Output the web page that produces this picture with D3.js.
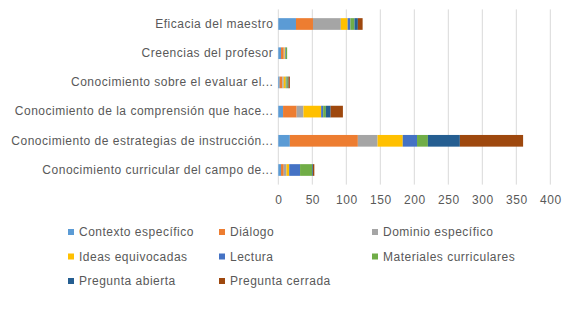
<!DOCTYPE html>
<html>
<head>
<meta charset="utf-8">
<script src="https://cdn.jsdelivr.net/npm/d3@7"></script>
<style>
  body { margin: 0; background: #fff; }
  text { font-family: "Liberation Sans", Arial, sans-serif; fill: #595959; letter-spacing: 0.5px; }
</style>
</head>
<body>
<div id="chart"></div>
<script>
// categories, top to bottom as drawn
const categories = [
    "Eficacia del maestro",
    "Creencias del profesor",
    "Conocimiento sobre el evaluar el...",
    "Conocimiento de la comprensión que hace...",
    "Conocimiento de estrategias de instrucción...",
    "Conocimiento curricular del campo de..."
];

const seriesNames = [
    "Contexto específico", "Diálogo", "Dominio específico", "Ideas equivocadas",
    "Lectura", "Materiales curriculares", "Pregunta abierta", "Pregunta cerrada"
];

// one array per series, in category order
const contexto    = [26, 4, 2, 7, 17, 4];
const dialogo     = [25, 4, 4, 20, 100, 4];
const dominio     = [41, 1, 2, 10, 29, 4];
const ideas       = [10, 1, 3, 26, 37, 4];
const lectura     = [4, 1, 1, 3, 21, 16];
const materiales  = [6, 2, 2, 4, 16, 18];
const abierta     = [5, 0, 1, 7, 47, 1];
const cerrada     = [7, 0, 2, 18, 93, 2];

const xTicks = [0, 50, 100, 150, 200, 250, 300, 350, 400];
const colors = ["#5B9BD5", "#ED7D31", "#A5A5A5", "#FFC000", "#4472C4", "#70AD47", "#255E91", "#9E480E"];

const allSeries = [contexto, dialogo, dominio, ideas, lectura, materiales, abierta, cerrada];

const W = 577, H = 311;
const margin = { top: 9.4, left: 278.3 };
const plotW = 272, plotH = 175.2;

const svg = d3.select("#chart").append("svg")
    .attr("width", W)
    .attr("height", H);

const x = d3.scaleLinear().domain([0, 400]).range([margin.left, margin.left + plotW]);
const y = d3.scaleBand().domain(categories)
    .range([margin.top, margin.top + plotH])
    .paddingInner(0.6).paddingOuter(0.3);

// gridlines
svg.append("g")
    .selectAll("line")
    .data(xTicks)
    .enter().append("line")
    .attr("x1", d => x(d)).attr("x2", d => x(d))
    .attr("y1", margin.top).attr("y2", margin.top + plotH)
    .attr("stroke", "#d9d9d9")
    .attr("stroke-width", 1);

// build stacked table
const rows = categories.map((c, i) => {
    const r = { cat: c };
    seriesNames.forEach((s, j) => { r[s] = allSeries[j][i]; });
    return r;
});
const stacked = d3.stack().keys(seriesNames)(rows);

svg.append("g")
    .selectAll("g")
    .data(stacked)
    .enter().append("g")
    .attr("fill", (d, i) => colors[i])
    .selectAll("rect")
    .data(d => d)
    .enter().append("rect")
    .attr("x", d => x(d[0]))
    .attr("width", d => Math.max(0, x(d[1]) - x(d[0])))
    .attr("y", d => y(d.data.cat))
    .attr("height", y.bandwidth());

// x axis labels
const gx = svg.append("g")
    .attr("transform", `translate(0,${margin.top + plotH})`)
    .call(d3.axisBottom(x).tickValues(xTicks).tickSize(0).tickPadding(11));
gx.select(".domain").remove();
gx.selectAll("text")
    .style("font-family", "Liberation Sans, Arial, sans-serif")
    .style("font-size", "12px")
    .attr("fill", "#595959");

// y axis labels
const gy = svg.append("g")
    .attr("transform", `translate(${margin.left},0)`)
    .call(d3.axisLeft(y).tickSize(0).tickPadding(5));
gy.select(".domain").remove();
gy.selectAll("text")
    .style("font-family", "Liberation Sans, Arial, sans-serif")
    .style("font-size", "12px")
    .attr("fill", "#595959");

// legend
const legendCols = [68, 219, 372];
const legendRows = [232, 256.5, 281];
const legend = svg.append("g");
seriesNames.forEach((s, i) => {
    const cx = legendCols[i % 3], cy = legendRows[Math.floor(i / 3)];
    legend.append("rect")
        .attr("x", cx).attr("y", cy - 3)
        .attr("width", 6).attr("height", 6)
        .attr("fill", colors[i]);
    legend.append("text")
        .attr("x", cx + 11).attr("y", cy)
        .attr("dy", "0.35em")
        .style("font-size", "12px")
        .text(s);
});
</script>
</body>
</html>
